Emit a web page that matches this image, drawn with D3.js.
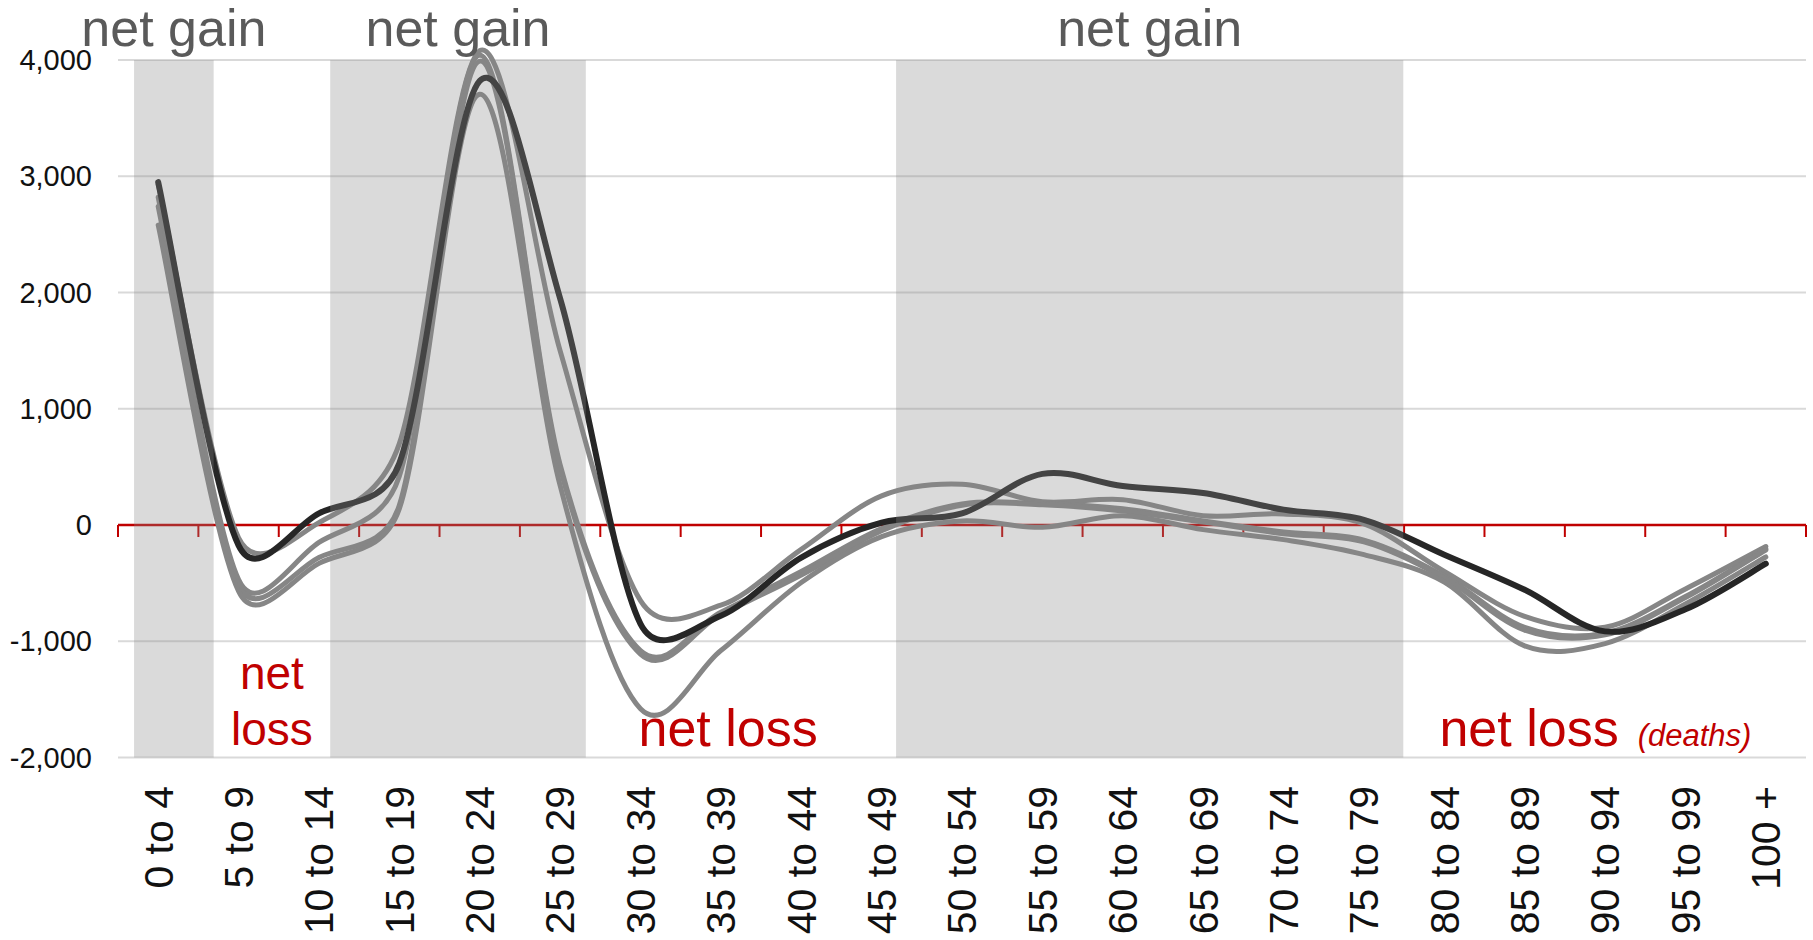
<!DOCTYPE html>
<html>
<head>
<meta charset="utf-8">
<script src="https://cdnjs.cloudflare.com/ajax/libs/d3/7.8.5/d3.min.js"></script>
<style>
    body { margin: 0; background: #fff; }
    text { font-family: "Liberation Sans", Arial, sans-serif; }
</style>
</head>
<body>
<div id="my_dataviz"></div>
<script>
// age groups on the x axis
var ageGroups = ["0 to 4", "5 to 9", "10 to 14", "15 to 19", "20 to 24", "25 to 29",
    "30 to 34", "35 to 39", "40 to 44", "45 to 49", "50 to 54", "55 to 59", "60 to 64",
    "65 to 69", "70 to 74", "75 to 79", "80 to 84", "85 to 89", "90 to 94", "95 to 99", "100 +"];

var yTicks = [-2000, -1000, 0, 1000, 2000, 3000, 4000];

// net change per age group, latest year (dark) and earlier years (grey)
var latest = [2950, -175, 100, 530, 3820, 1950, -850, -780, -280, 20, 100, 440, 335, 275, 132, 45, -255, -557, -915, -725, -333];
var earlierA = [2930, -110, 20, 700, 4080, 1500, -650, -690, -210, 250, 350, 200, 218, 80, 95, 10, -400, -786, -880, -550, -185];
var earlierB = [2820, -470, -150, 420, 4040, 520, -1080, -750, -400, -30, 180, 185, 140, 35, -60, -130, -440, -880, -930, -615, -205];
var earlierC = [2740, -515, -280, 170, 3990, 490, -1110, -770, -430, -50, 170, 175, 120, 25, -75, -145, -455, -905, -945, -625, -215];
var earlierD = [2580, -570, -330, 140, 3706, 340, -1580, -1080, -495, -100, 35, -20, 80, -40, -126, -255, -490, -1040, -1020, -680, -275];

// shaded "net gain" spans, in age-group index units
var gainFrom = [-0.30, 2.14, 9.18];
var gainTo = [0.69, 5.32, 15.49];

var margin = {top: 60, right: 7, bottom: 182.5, left: 118},
    width = 1813 - margin.left - margin.right,
    height = 940 - margin.top - margin.bottom;

var svg = d3.select("#my_dataviz")
    .append("svg")
    .attr("width", 1813)
    .attr("height", 940)
    .append("g")
    .attr("transform", "translate(" + margin.left + "," + margin.top + ")");

var x = d3.scaleBand().domain(ageGroups).range([0, width]);
var xi = d3.scaleLinear()
    .domain([0, ageGroups.length - 1])
    .range([x(ageGroups[0]) + x.bandwidth() / 2, x(ageGroups[ageGroups.length - 1]) + x.bandwidth() / 2]);
var y = d3.scaleLinear().domain([-2000, 4000]).range([height, 0]);

var fmt = d3.formatLocale({decimal: ".", thousands: ",", grouping: [3], currency: ["", ""], minus: "-"}).format(",");

// excel-like smoothing: catmull-rom arms, each capped at half the segment
function ExcelSmooth(context) { this._context = context; }
ExcelSmooth.prototype = {
    areaStart: function () {},
    areaEnd: function () {},
    lineStart: function () { this._px = []; this._py = []; },
    point: function (a, b) { this._px.push(+a); this._py.push(+b); },
    lineEnd: function () {
        var px = this._px, py = this._py, n = px.length, c = this._context;
        if (!n) return;
        c.moveTo(px[0], py[0]);
        for (var i = 0; i < n - 1; i++) {
            var i0 = Math.max(i - 1, 0), i3 = Math.min(i + 2, n - 1);
            var seg = Math.hypot(px[i + 1] - px[i], py[i + 1] - py[i]);
            var ax = (px[i + 1] - px[i0]) / 6, ay = (py[i + 1] - py[i0]) / 6;
            var bx = (px[i3] - px[i]) / 6, by = (py[i3] - py[i]) / 6;
            var la = Math.hypot(ax, ay), lb = Math.hypot(bx, by);
            if (la > seg / 2) { ax *= seg / 2 / la; ay *= seg / 2 / la; }
            if (lb > seg / 2) { bx *= seg / 2 / lb; by *= seg / 2 / lb; }
            c.bezierCurveTo(px[i] + ax, py[i] + ay, px[i + 1] - bx, py[i + 1] - by, px[i + 1], py[i + 1]);
        }
    }
};
var curveExcel = function (context) { return new ExcelSmooth(context); };

// gridlines
svg.append("g")
    .selectAll("line")
    .data(yTicks.filter(function (d) { return d !== 0; }))
    .enter().append("line")
    .attr("x1", 0).attr("x2", width)
    .attr("y1", function (d) { return y(d); })
    .attr("y2", function (d) { return y(d); })
    .attr("stroke", "#d9d9d9")
    .attr("stroke-width", 2);

// red zero axis with ticks at the group boundaries
svg.append("line")
    .attr("x1", 0).attr("x2", width)
    .attr("y1", y(0)).attr("y2", y(0))
    .attr("stroke", "#c00000")
    .attr("stroke-width", 2.5);
var bounds = ageGroups.map(function (d) { return x(d); }).concat([width]);
svg.append("g")
    .selectAll("line")
    .data(bounds)
    .enter().append("line")
    .attr("x1", function (d) { return d; })
    .attr("x2", function (d) { return d; })
    .attr("y1", y(0))
    .attr("y2", y(0) + 12)
    .attr("stroke", "#c00000")
    .attr("stroke-width", 2);

// the lines
var line = d3.line()
    .x(function (d, i) { return xi(i); })
    .y(function (d) { return y(d); })
    .curve(curveExcel);

[earlierA, earlierB, earlierC, earlierD].forEach(function (s) {
    svg.append("path")
        .datum(s)
        .attr("fill", "none")
        .attr("stroke", "#868686")
        .attr("stroke-width", 5)
        .attr("stroke-linecap", "round")
        .attr("d", line);
});
svg.append("path")
    .datum(latest)
    .attr("fill", "none")
    .attr("stroke", "#262626")
    .attr("stroke-width", 6)
    .attr("stroke-linecap", "round")
    .attr("d", line);

// shaded net gain spans, laid over the lines
svg.append("g")
    .selectAll("rect")
    .data(gainFrom)
    .enter().append("rect")
    .attr("x", function (d) { return xi(d); })
    .attr("width", function (d, i) { return xi(gainTo[i]) - xi(d); })
    .attr("y", y(4000))
    .attr("height", y(-2000) - y(4000))
    .attr("fill", "rgb(134,134,134)")
    .attr("fill-opacity", 0.31);

// y axis labels
svg.append("g")
    .selectAll("text")
    .data(yTicks)
    .enter().append("text")
    .attr("x", -26)
    .attr("y", function (d) { return y(d); })
    .attr("dy", "0.35em")
    .attr("text-anchor", "end")
    .style("font-size", "29px")
    .attr("fill", "#111")
    .text(function (d) { return fmt(d); });

// x axis labels
svg.append("g")
    .selectAll("text")
    .data(ageGroups)
    .enter().append("text")
    .attr("transform", function (d) {
        return "translate(" + (x(d) + x.bandwidth() / 2) + "," + (height + 28.5) + ") rotate(-90)";
    })
    .attr("dy", "0.35em")
    .attr("text-anchor", "end")
    .style("font-size", "41px")
    .attr("fill", "#111")
    .text(function (d) { return d; });

// annotations
svg.append("g")
    .selectAll("text")
    .data(gainFrom)
    .enter().append("text")
    .attr("x", function (d, i) { return (xi(d) + xi(gainTo[i])) / 2; })
    .attr("y", y(4120))
    .attr("text-anchor", "middle")
    .style("font-size", "52px")
    .attr("fill", "#5a5a5a")
    .text("net gain");

var red = "#c00000";
svg.append("text")
    .attr("x", xi(1.415)).attr("y", y(-1410))
    .attr("text-anchor", "middle")
    .style("font-size", "46px")
    .attr("fill", red)
    .text("net");
svg.append("text")
    .attr("x", xi(1.415)).attr("y", y(-1895))
    .attr("text-anchor", "middle")
    .style("font-size", "46px")
    .attr("fill", red)
    .text("loss");
svg.append("text")
    .attr("x", xi(7.09)).attr("y", y(-1905))
    .attr("text-anchor", "middle")
    .style("font-size", "52px")
    .attr("fill", red)
    .text("net loss");

var deaths = svg.append("text")
    .attr("x", xi(15.94)).attr("y", y(-1905))
    .attr("fill", red);
deaths.append("tspan")
    .style("font-size", "52px")
    .text("net loss");
deaths.append("tspan")
    .attr("dx", 19)
    .style("font-size", "31px")
    .style("font-style", "italic")
    .text("(deaths)");
</script>
</body>
</html>
